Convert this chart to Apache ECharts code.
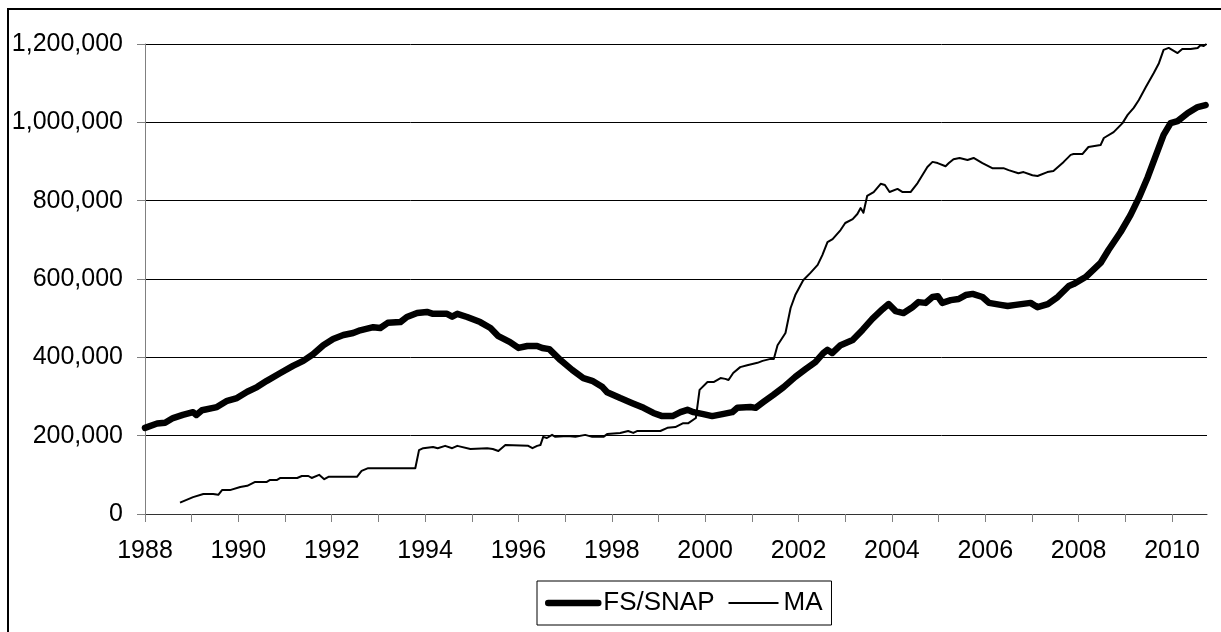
<!DOCTYPE html>
<html>
<head>
<meta charset="utf-8">
<script src="https://cdn.jsdelivr.net/npm/echarts@6/dist/echarts.min.js"></script>
<style>
  html, body { margin: 0; padding: 0; background: #fff; }
  #chart { width: 1221px; height: 632px; }
</style>
</head>
<body>
<div id="chart"></div>
<script>
  // FS/SNAP caseload (year as decimal, value in persons)
  var fsYears = [1988.00, 1988.26, 1988.43, 1988.60, 1988.81, 1989.03, 1989.10, 1989.22, 1989.54, 1989.76,
    1989.97, 1990.19, 1990.40, 1990.61, 1990.90, 1991.17, 1991.39, 1991.60, 1991.82, 1992.03,
    1992.25, 1992.46, 1992.61, 1992.89, 1993.04, 1993.20, 1993.47, 1993.61, 1993.83, 1994.04,
    1994.17, 1994.47, 1994.58, 1994.69, 1994.90, 1995.18, 1995.40, 1995.57, 1995.82, 1996.00,
    1996.19, 1996.40, 1996.51, 1996.66, 1996.90, 1997.15, 1997.39, 1997.58, 1997.80, 1997.90,
    1998.18, 1998.44, 1998.68, 1998.89, 1999.08, 1999.30, 1999.47, 1999.62, 1999.75, 1999.96,
    2000.15, 2000.37, 2000.58, 2000.69, 2000.97, 2001.08, 2001.25, 2001.46, 2001.68, 2001.93,
    2002.15, 2002.36, 2002.53, 2002.62, 2002.72, 2002.90, 2003.16, 2003.37, 2003.58, 2003.80,
    2003.93, 2004.08, 2004.25, 2004.44, 2004.57, 2004.72, 2004.87, 2004.98, 2005.08, 2005.26,
    2005.43, 2005.58, 2005.73, 2005.94, 2006.08, 2006.33, 2006.48, 2006.65, 2006.97, 2007.12,
    2007.34, 2007.55, 2007.79, 2007.89, 2008.15, 2008.47, 2008.64, 2008.90, 2009.11, 2009.29,
    2009.48, 2009.82, 2009.97, 2010.12, 2010.34, 2010.55, 2010.72];
  var fsValues = [220000, 231000, 233000, 245000, 253000, 260000, 253000, 265000, 273000, 289000,
    296000, 312000, 324000, 340000, 360000, 378000, 391000, 408000, 431000, 447000,
    457000, 462000, 469000, 477000, 475000, 488000, 490000, 503000, 513000, 516000,
    511000, 511000, 504000, 511000, 503000, 490000, 475000, 454000, 439000, 424000,
    429000, 429000, 424000, 421000, 393000, 368000, 347000, 340000, 324000, 311000,
    296000, 283000, 271000, 258000, 250000, 250000, 260000, 266000, 260000, 255000,
    250000, 255000, 260000, 271000, 273000, 271000, 286000, 304000, 324000, 350000,
    370000, 388000, 411000, 419000, 411000, 431000, 444000, 470000, 498000, 523000,
    536000, 518000, 513000, 528000, 541000, 539000, 554000, 556000, 539000, 546000,
    549000, 559000, 562000, 554000, 539000, 534000, 531000, 534000, 539000, 528000,
    536000, 554000, 582000, 587000, 605000, 641000, 674000, 720000, 763000, 807000,
    860000, 968000, 998000, 1003000, 1024000, 1039000, 1044000];

  // MA caseload
  var maYears = [1988.75, 1989.03, 1989.25, 1989.46, 1989.50, 1989.57, 1989.65, 1989.82, 1990.04, 1990.19,
    1990.36, 1990.61, 1990.68, 1990.83, 1990.90, 1991.26, 1991.36, 1991.50, 1991.57, 1991.73,
    1991.84, 1991.93, 1992.54, 1992.64, 1992.78, 1993.79, 1993.87, 1993.96, 1994.17, 1994.27,
    1994.43, 1994.58, 1994.69, 1994.97, 1995.33, 1995.45, 1995.57, 1995.72, 1996.21, 1996.30,
    1996.40, 1996.47, 1996.53, 1996.61, 1996.72, 1996.79, 1997.05, 1997.22, 1997.43, 1997.58,
    1997.82, 1997.90, 1998.18, 1998.35, 1998.46, 1998.55, 1999.04, 1999.19, 1999.36, 1999.53,
    1999.64, 1999.80, 1999.84, 1999.88, 2000.05, 2000.18, 2000.33, 2000.43, 2000.50, 2000.60,
    2000.75, 2000.90, 2001.12, 2001.23, 2001.40, 2001.47, 2001.55, 2001.72, 2001.83, 2001.93,
    2002.10, 2002.25, 2002.41, 2002.51, 2002.62, 2002.73, 2002.90, 2003.00, 2003.16, 2003.26,
    2003.33, 2003.39, 2003.47, 2003.61, 2003.76, 2003.85, 2003.95, 2004.12, 2004.23, 2004.40,
    2004.55, 2004.76, 2004.87, 2004.98, 2005.15, 2005.22, 2005.32, 2005.45, 2005.62, 2005.75,
    2005.94, 2006.15, 2006.39, 2006.50, 2006.71, 2006.82, 2007.01, 2007.12, 2007.33, 2007.46,
    2007.68, 2007.83, 2007.89, 2008.08, 2008.21, 2008.47, 2008.54, 2008.75, 2008.94, 2009.05,
    2009.18, 2009.29, 2009.44, 2009.61, 2009.72, 2009.82, 2009.93, 2010.12, 2010.22, 2010.40,
    2010.55, 2010.61, 2010.68, 2010.74];
  var maValues = [29000, 43000, 51000, 51000, 54000, 49000, 61000, 61000, 69000, 72000,
    82000, 82000, 87000, 87000, 92000, 92000, 97000, 97000, 92000, 100000,
    89000, 95000, 95000, 110000, 117000, 117000, 163000, 168000, 171000, 168000,
    174000, 168000, 174000, 166000, 168000, 166000, 161000, 176000, 174000, 168000,
    174000, 176000, 197000, 194000, 202000, 197000, 199000, 197000, 202000, 197000,
    197000, 204000, 207000, 212000, 207000, 212000, 212000, 220000, 222000, 232000,
    232000, 245000, 248000, 317000, 337000, 337000, 347000, 345000, 342000, 360000,
    375000, 380000, 386000, 391000, 396000, 396000, 431000, 462000, 526000, 559000,
    597000, 615000, 636000, 661000, 694000, 702000, 725000, 743000, 753000, 766000,
    781000, 769000, 812000, 822000, 843000, 840000, 822000, 830000, 822000, 822000,
    845000, 886000, 899000, 896000, 888000, 896000, 906000, 909000, 904000, 909000,
    896000, 883000, 883000, 878000, 870000, 873000, 865000, 863000, 873000, 876000,
    899000, 917000, 919000, 919000, 937000, 942000, 960000, 975000, 998000, 1019000,
    1037000, 1057000, 1090000, 1126000, 1151000, 1185000, 1190000, 1177000, 1187000, 1187000,
    1190000, 1197000, 1195000, 1200000];

  var yTicks = [0, 200000, 400000, 600000, 800000, 1000000, 1200000];

  function pairs(xs, ys) {
    return xs.map(function (x, i) { return [x, ys[i]]; });
  }

  var chart = echarts.init(document.getElementById('chart'));

  var fontFamily = 'Liberation Sans, Arial, sans-serif';

  var option = {
    animation: false,
    backgroundColor: '#fff',
    textStyle: { fontFamily: fontFamily },
    graphic: [{
      // outer chart frame (only top and left edges fall inside the picture)
      type: 'rect',
      shape: { x: 8, y: 9, width: 1400, height: 800 },
      style: { fill: null, stroke: '#000', lineWidth: 2 },
      silent: true
    }],
    grid: { left: 145, right: 14, top: 44, bottom: 118 },
    legend: {
      left: 537,
      top: 581,
      padding: [9, 9, 9, 8],
      borderColor: '#000',
      borderWidth: 1,
      itemWidth: 50,
      itemHeight: 25,
      itemGap: 13,
      textStyle: { fontFamily: fontFamily, fontSize: 26, color: '#000' },
      data: [
        { name: 'FS/SNAP', lineStyle: { width: 6.5, cap: 'round' }, itemStyle: { opacity: 0 } },
        { name: 'MA', lineStyle: { width: 2 }, itemStyle: { opacity: 0 } }
      ]
    },
    xAxis: {
      type: 'value',
      min: 1988,
      max: 2010.75,
      interval: 1,
      axisLine: { lineStyle: { color: '#333', width: 1 } },
      axisTick: { length: 8, lineStyle: { color: '#808080', width: 1 } },
      axisLabel: {
        fontSize: 25,
        color: '#000',
        margin: 25,
        showMaxLabel: false,
        formatter: function (v) {
          return (Math.round(v) === v && v % 2 === 0) ? String(v) : '';
        }
      },
      splitLine: { show: false }
    },
    yAxis: {
      type: 'value',
      min: yTicks[0],
      max: yTicks[yTicks.length - 1],
      interval: yTicks[1] - yTicks[0],
      axisLine: { show: true, lineStyle: { color: '#808080', width: 1 } },
      axisTick: { show: true, length: 8, lineStyle: { color: '#808080', width: 1 } },
      axisLabel: {
        fontSize: 25,
        color: '#000',
        margin: 22,
        formatter: function (v) { return v.toLocaleString('en-US'); }
      },
      splitLine: { lineStyle: { color: '#000', width: 1 } }
    },
    series: [
      {
        name: 'FS/SNAP',
        type: 'line',
        data: pairs(fsYears, fsValues),
        showSymbol: false,
        symbol: 'none',
        color: '#000',
        lineStyle: { color: '#000', width: 6.5, join: 'round', cap: 'round' }
      },
      {
        name: 'MA',
        type: 'line',
        data: pairs(maYears, maValues),
        showSymbol: false,
        symbol: 'none',
        color: '#000',
        lineStyle: { color: '#000', width: 2, join: 'round' }
      }
    ]
  };

  chart.setOption(option);
</script>
</body>
</html>
